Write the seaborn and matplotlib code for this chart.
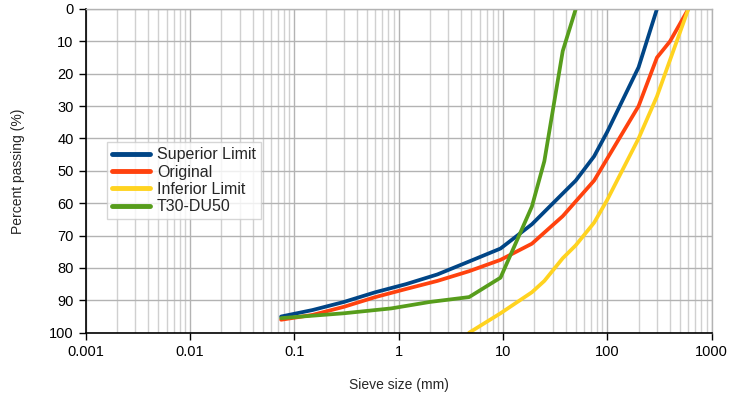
import matplotlib
matplotlib.use("Agg")
import matplotlib.pyplot as plt
import seaborn as sns
import pandas as pd
import numpy as np
from matplotlib.ticker import LogLocator, NullFormatter

# Data
sup_x = [0.075, 0.15, 0.3, 0.6, 1.18, 2.36, 4.75, 9.5, 19, 37.5, 50, 75, 100, 200, 300]
sup_y = [95, 93, 90.5, 87.5, 85, 82, 78, 74, 66.5, 57, 53, 45.5, 38, 18, 0]
orig_x = [0.075, 0.15, 0.3, 0.6, 1.18, 2.36, 4.75, 9.5, 19, 37.5, 75, 200, 300, 400, 600]
orig_y = [96, 94.5, 92, 89, 86.5, 84, 81, 77.5, 72.5, 64, 53, 30, 15, 10, 0]
inf_x = [4.75, 9.5, 19, 25, 37.5, 50, 75, 100, 200, 300, 600]
inf_y = [100, 94, 87.5, 84, 77, 73, 66, 59, 40, 27, 0]
t30_x = [0.075, 0.3, 0.85, 2, 4.75, 9.5, 19, 25, 37.5, 50]
t30_y = [95.5, 94, 92.5, 90.5, 89, 83, 61, 47, 13, 0]

series_names = ["Superior Limit", "Original", "Inferior Limit", "T30-DU50"]
colors = ["#004586", "#ff420e", "#ffd320", "#579d1c"]
x_ticks = [0.001, 0.01, 0.1, 1, 10, 100, 1000]
x_tick_labels = ["0.001", "0.01", "0.1", "1", "10", "100", "1000"]
y_ticks = list(range(0, 101, 10))

frames = []
for name, xs, ys in zip(series_names, [sup_x, orig_x, inf_x, t30_x], [sup_y, orig_y, inf_y, t30_y]):
    frames.append(pd.DataFrame({"size": xs, "passing": ys, "series": name}))
df = pd.concat(frames, ignore_index=True)

sns.set_style("white")
plt.rcParams["font.family"] = ["Liberation Sans", "DejaVu Sans"]

fig = plt.figure(figsize=(7.31, 4.01), dpi=100)
ax = fig.add_axes([85.5 / 731, 1 - 332.7 / 401, (711.5 - 85.5) / 731, (332.7 - 9) / 401])

sns.lineplot(data=df, x="size", y="passing", hue="series", hue_order=series_names,
             palette=colors, linewidth=2.7, sort=False, estimator=None, ax=ax)

ax.set_xscale("log")
ax.set_xlim(0.001, 1000)
ax.set_ylim(100, 0)
ax.set_xticks(x_ticks)
ax.set_xticklabels(x_tick_labels)
ax.xaxis.set_minor_locator(LogLocator(base=10, subs=np.arange(2, 10)))
ax.xaxis.set_minor_formatter(NullFormatter())
ax.set_yticks(y_ticks)

ax.grid(True, which="major", color="#b3b3b3", linewidth=1.0)
ax.grid(True, which="minor", axis="x", color="#d0d0d0", linewidth=1.0)
ax.set_axisbelow(True)

ax.tick_params(axis="both", which="major", direction="out", length=5, width=1,
               colors="black", labelsize=10.5, bottom=True, left=True)
ax.tick_params(axis="x", which="minor", length=0)
for s in ["left", "bottom"]:
    ax.spines[s].set_color("black")
    ax.spines[s].set_linewidth(1.2)
for s in ["top", "right"]:
    ax.spines[s].set_color("#b3b3b3")
    ax.spines[s].set_linewidth(1.0)

ax.set_xlabel("Sieve size (mm)", fontsize=10, labelpad=14)
ax.set_ylabel("Percent passing (%)", fontsize=10, labelpad=17)

leg = ax.legend(loc="upper left", bbox_to_anchor=(0.034, 0.588), frameon=True,
                fancybox=False, fontsize=11.5, handlelength=2.4, handletextpad=0.45,
                borderpad=0.3, labelspacing=0.15, borderaxespad=0)
leg.get_frame().set_edgecolor("#cccccc")
leg.get_frame().set_linewidth(1.0)
for line in leg.get_lines():
    line.set_linewidth(3.5)

fig.savefig("out.png", dpi=100)
